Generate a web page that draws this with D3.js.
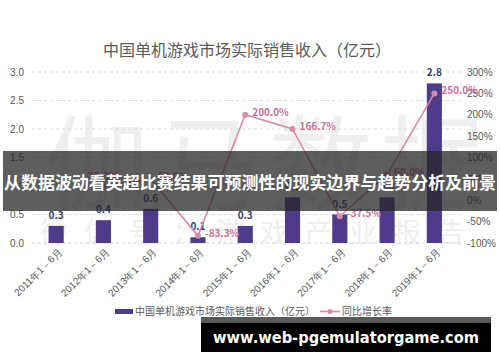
<!DOCTYPE html>
<meta charset="utf-8">
<style>
  body { margin: 0; background: #fff; }
  svg { display: block; font-family: "Noto Sans CJK SC", "Noto Sans", sans-serif; }
  .grid line { stroke: #d9d9d9; stroke-dasharray: 3,3; }
  .axis text { fill: #595959; font-size: 10px; }
  .axis path, .axis line { display: none; }
</style>
<body>
<svg width="500" height="362"></svg>
<script src="https://cdnjs.cloudflare.com/ajax/libs/d3/7.8.5/d3.min.js"></script>
<script>
  // chart data
  var categories = ["2011年1－6月", "2012年1－6月", "2013年1－6月", "2014年1－6月", "2015年1－6月",
    "2016年1－6月", "2017年1－6月", "2018年1－6月", "2019年1－6月"];
  var revenue = [0.3, 0.4, 0.6, 0.1, 0.3, 0.8, 0.5, 0.8, 2.8];
  var growth = [null, 33.3, 50.0, -83.3, 200.0, 166.7, -37.5, 60.0, 250.0];
  var leftTicks = [0, 0.5, 1, 1.5, 2, 2.5, 3];
  var rightTicks = [-100, -50, 0, 50, 100, 150, 200, 250, 300];

  var svg = d3.select("svg");
  var barColor = "#4e3b8a", lineColor = "#d98aa6", labelPink = "#cc6f97";

  var x = d3.scaleBand().domain(categories).range([32.5, 458]).paddingInner(0.68).paddingOuter(0.34);
  var y = d3.scaleLinear().domain([0, 3]).range([243, 72]);
  var y2 = d3.scaleLinear().domain([-100, 300]).range([243, 72]);

  // watermark
  var wm = svg.append("g").attr("fill", "#efefef");
  wm.append("text").attr("x", 45).attr("y", 203).attr("font-size", 104)
    .attr("textLength", 440).attr("lengthAdjust", "spacing").text("伽马数据");
  wm.append("text").attr("x", 40).attr("y", 243).attr("font-size", 28)
    .attr("textLength", 425).attr("lengthAdjust", "spacing").text("微信号：游戏产业报告");

  // title
  svg.append("text").attr("x", 247).attr("y", 56).attr("text-anchor", "middle")
    .attr("font-size", 16).attr("fill", "#595959").text("中国单机游戏市场实际销售收入（亿元）");

  // grid
  svg.append("g").attr("class", "grid")
    .selectAll("line").data(leftTicks).enter().append("line")
    .attr("x1", 32).attr("x2", 463)
    .attr("y1", function (d) { return y(d); })
    .attr("y2", function (d) { return y(d); });

  // axes
  svg.append("g").attr("class", "axis").attr("transform", "translate(24,0)")
    .call(d3.axisLeft(y).tickValues(leftTicks).tickSize(0).tickPadding(0).tickFormat(d3.format(".1f")))
    .selectAll("text").attr("text-anchor", "end");
  svg.append("g").attr("class", "axis").attr("transform", "translate(467,0)")
    .call(d3.axisRight(y2).tickValues(rightTicks).tickSize(0).tickPadding(0).tickFormat(function (d) { return d + "%"; }));

  var xAxis = svg.append("g").attr("class", "axis").attr("transform", "translate(0,247)")
    .call(d3.axisBottom(x).tickSize(0).tickPadding(0));
  xAxis.selectAll("text")
    .attr("font-size", 9)
    .attr("text-anchor", "end")
    .attr("dy", "0.35em")
    .attr("transform", "translate(4,3) rotate(-45)");

  // bars
  svg.selectAll(".bar").data(revenue).enter().append("rect")
    .attr("class", "bar")
    .attr("x", function (d, i) { return x(categories[i]); })
    .attr("y", function (d) { return y(d); })
    .attr("width", x.bandwidth())
    .attr("height", function (d) { return y(0) - y(d); })
    .attr("fill", barColor);

  svg.selectAll(".barlabel").data(revenue).enter().append("text")
    .attr("class", "barlabel")
    .attr("x", function (d, i) { return x(categories[i]) + x.bandwidth() / 2; })
    .attr("y", function (d) { return y(d) - 7; })
    .attr("text-anchor", "middle")
    .attr("font-size", 10).attr("font-weight", "bold")
    .attr("fill", "#3a3a72")
    .text(function (d) { return d.toFixed(1); });

  // growth line
  var cx = function (d, i) { return x(categories[i]) + x.bandwidth() / 2; };
  var line = d3.line()
    .defined(function (d) { return d !== null; })
    .x(cx)
    .y(function (d) { return y2(d); });
  svg.append("path").datum(growth)
    .attr("d", line)
    .attr("fill", "none")
    .attr("stroke", lineColor)
    .attr("stroke-width", 1.6);

  var pts = growth.map(function (d, i) { return { v: d, i: i }; }).filter(function (d) { return d.v !== null; });
  svg.selectAll(".pt").data(pts).enter().append("circle")
    .attr("cx", function (d) { return cx(d.v, d.i); })
    .attr("cy", function (d) { return y2(d.v); })
    .attr("r", 3)
    .attr("fill", lineColor);

  svg.selectAll(".ptlabel").data(pts).enter().append("text")
    .attr("x", function (d) { return d.i === 1 ? cx(d.v, d.i) : cx(d.v, d.i) + 7; })
    .attr("y", function (d) { return d.i === 1 ? y2(d.v) - 6 : y2(d.v) + 1; })
    .attr("text-anchor", function (d) { return d.i === 1 ? "middle" : "start"; })
    .attr("font-size", 10).attr("font-weight", "bold")
    .attr("fill", labelPink)
    .text(function (d) { return d.v.toFixed(1) + "%"; });

  // legend
  var lg = svg.append("g");
  lg.append("rect").attr("x", 115).attr("y", 309).attr("width", 18).attr("height", 5).attr("fill", barColor);
  lg.append("text").attr("x", 135).attr("y", 315).attr("font-size", 10).attr("fill", "#595959")
    .text("中国单机游戏市场实际销售收入（亿元）");
  lg.append("line").attr("x1", 320).attr("x2", 340).attr("y1", 311.5).attr("y2", 311.5)
    .attr("stroke", lineColor).attr("stroke-width", 1.6);
  lg.append("circle").attr("cx", 330).attr("cy", 311.5).attr("r", 2.5).attr("fill", lineColor);
  lg.append("text").attr("x", 342).attr("y", 315).attr("font-size", 10).attr("fill", "#595959").text("同比增长率");

  // overlay banners
  svg.append("rect").attr("x", 3).attr("y", 151).attr("width", 494).attr("height", 60)
    .attr("fill", "rgba(38,38,38,0.74)");
  svg.append("text").attr("x", 250).attr("y", 189).attr("text-anchor", "middle")
    .attr("font-size", 17).attr("font-weight", "bold").attr("fill", "#fff")
    .attr("textLength", 492).attr("lengthAdjust", "spacingAndGlyphs")
    .text("从数据波动看英超比赛结果可预测性的现实边界与趋势分析及前景");

  svg.append("rect").attr("x", 201).attr("y", 317).attr("width", 290).attr("height", 35).attr("fill", "#000");
  svg.append("rect").attr("x", 201).attr("y", 317).attr("width", 290).attr("height", 6).attr("fill", "#5a5a5a");
  svg.append("text").attr("x", 213).attr("y", 343)
    .attr("font-family", "DejaVu Sans").attr("font-size", 16).attr("font-weight", "bold").attr("fill", "#fff")
    .attr("textLength", 266).attr("lengthAdjust", "spacingAndGlyphs")
    .text("www.web-pgemulatorgame.com");
</script>
</body>
